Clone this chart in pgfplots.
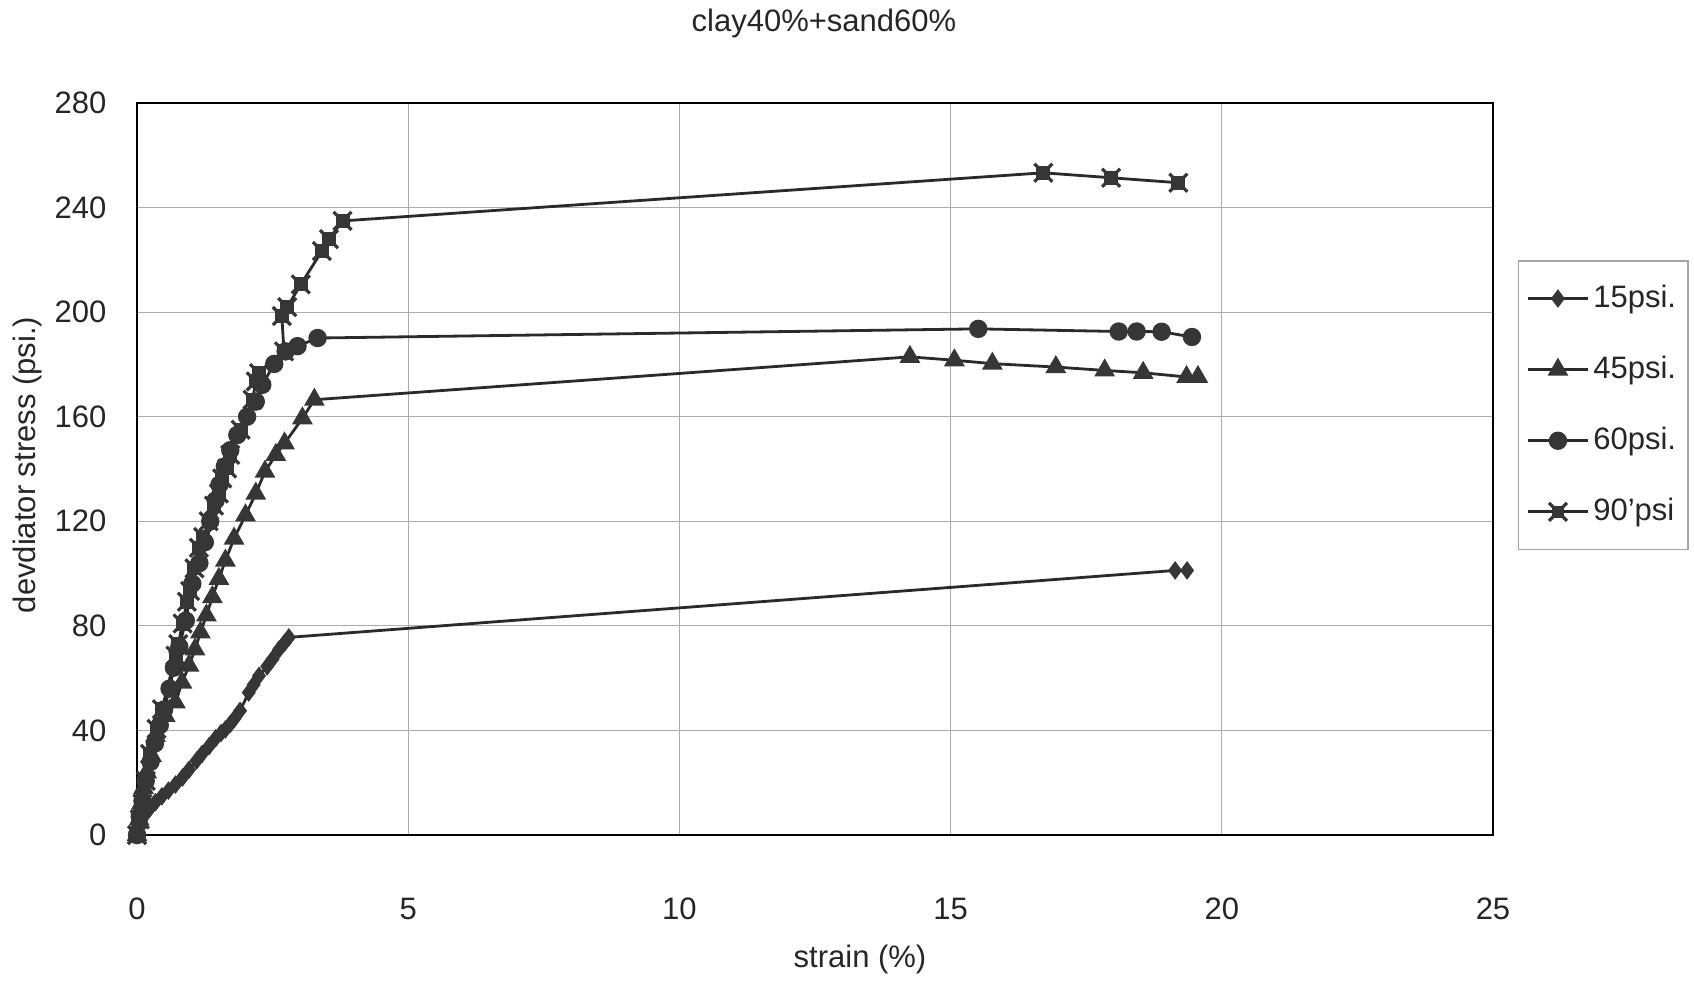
\documentclass[border=0pt]{standalone}
\usepackage{pgfplots}
\pgfplotsset{compat=1.18}
\usepackage{fontspec}
\setmainfont{Liberation Sans}
\definecolor{ln}{HTML}{2A2A2A}
\definecolor{mk}{HTML}{363636}
\pgfdeclareplotmark{xsq}{%
  \pgfpathrectangle{\pgfqpoint{-0.6\pgfplotmarksize}{-0.6\pgfplotmarksize}}{\pgfqpoint{1.2\pgfplotmarksize}{1.2\pgfplotmarksize}}%
  \pgfusepathqfillstroke
  \pgfsetlinewidth{1.6pt}%
  \pgfpathmoveto{\pgfqpoint{-\pgfplotmarksize}{-\pgfplotmarksize}}%
  \pgfpathlineto{\pgfqpoint{\pgfplotmarksize}{\pgfplotmarksize}}%
  \pgfpathmoveto{\pgfqpoint{-\pgfplotmarksize}{\pgfplotmarksize}}%
  \pgfpathlineto{\pgfqpoint{\pgfplotmarksize}{-\pgfplotmarksize}}%
  \pgfusepathqstroke
}
\begin{document}
\fontsize{15.5}{18}\selectfont
\begin{tikzpicture}
\useasboundingbox (0,0) rectangle (847pt,491pt);
\begin{axis}[
  at={(68.5pt,73.5pt)}, anchor=south west,
  scale only axis, width=678pt, height=366pt,
  xmin=0, xmax=25, ymin=0, ymax=280,
  clip=false,
  xtick={0,5,10,15,20,25}, ytick={0,40,80,120,160,200,240,280},
  major tick length=0pt,
  grid=major,
  major grid style={gray!65, line width=0.6pt},
  axis line style={black, line width=1.3pt},
  /pgf/number format/assume math mode=true,
  tick label style={font=\fontsize{15.5}{18}\selectfont, text=black!85},
  xticklabel style={anchor=center, yshift=-37pt},
  yticklabel style={anchor=east, xshift=-10pt},
  xlabel={strain (\%)},
  xlabel style={at={(axis description cs:0.5332,-0.1694)}, anchor=center, font=\fontsize{15.5}{18}\selectfont, text=black!85},
  ylabel={devdiator stress (psi.)},
  ylabel style={at={(axis description cs:-0.0811,0.5055)}, anchor=center, font=\fontsize{15.5}{18}\selectfont, text=black!85},
  legend style={at={(1.0184,0.785)}, anchor=north west, draw=gray!70, line width=0.6pt,
    font=\fontsize{15.5}{18}\selectfont, text=black!85, row sep=18pt,
    inner xsep=4pt, inner ysep=10pt},
  legend cell align=left,
  legend image code/.code={\draw[mark repeat=2,mark phase=2] plot coordinates {(0pt,0pt) (15pt,0pt) (30pt,0pt)};},
  every axis plot/.append style={line width=1.4pt, color=ln, mark options={fill=mk, draw=mk, line width=0.8pt, solid}},
]
% 15 psi
\addplot[mark=diamond*, mark size=4pt] coordinates {
(0,0) (0.08,5.9) (0.22,9.7) (0.34,12.5) (0.46,14.8) (0.58,17) (0.71,19.3) (0.84,22) (0.96,25) (1.1,28.5) (1.2,31) (1.33,34) (1.45,37) (1.55,39) (1.63,40.4) (1.72,42.5) (1.79,44.3) (1.9,47.5) (2.06,54.5) (2.15,57.5) (2.25,60.9) (2.4,64.5) (2.5,67.3) (2.62,71) (2.72,73.5) (2.8,75.6) (19.14,101.2) (19.36,101.2)
};
\addlegendentry{15psi.}
% 45 psi
\addplot[mark=triangle*, mark size=5.2pt] coordinates {
(0,0) (0.04,6) (0.08,12) (0.12,18) (0.18,24) (0.27,30.2) (0.34,37.9) (0.52,45.6) (0.71,50.7) (0.83,58.3) (0.96,64.8) (1.07,71) (1.17,77.5) (1.28,84) (1.39,91) (1.51,98) (1.63,105) (1.79,113.4) (2.0,122.3) (2.19,130.6) (2.36,139) (2.56,145.4) (2.72,149.8) (3.05,159.4) (3.27,166.5) (14.25,182.9) (15.07,181.6) (15.77,180.3) (16.94,179) (17.84,177.7) (18.55,176.8) (19.35,175.2) (19.56,175.2)
};
\addlegendentry{45psi.}
% 60 psi
\addplot[mark=*, mark size=4.2pt] coordinates {
(0,0) (0.05,7) (0.1,13) (0.16,20.7) (0.25,28) (0.33,35) (0.42,42) (0.5,48) (0.6,56) (0.68,64) (0.78,72) (0.9,82) (1.02,96.1) (1.15,104) (1.25,112) (1.35,120) (1.45,128) (1.52,134) (1.62,141) (1.72,147.2) (1.85,153) (2.03,160) (2.19,165.8) (2.31,172.2) (2.53,180.2) (2.74,185) (2.96,187) (3.33,190.1) (15.51,193.6) (18.1,192.6) (18.43,192.6) (18.89,192.5) (19.45,190.5)
};
\addlegendentry{60psi.}
% 90 psi
\addplot[mark=xsq, mark size=4.5pt] coordinates {
(0,0) (0.05,6) (0.1,12) (0.16,20.7) (0.24,31) (0.36,40.6) (0.46,48.1) (0.71,68.6) (0.76,73) (0.84,80.9) (0.92,89.2) (0.98,93.3) (1.06,102) (1.14,109.9) (1.22,114) (1.32,120) (1.42,126) (1.51,130.6) (1.57,136.4) (1.66,140.2) (1.72,145.4) (1.91,155) (2.13,166.5) (2.19,173.5) (2.25,176.7) (2.71,185) (2.67,198.5) (2.77,201.9) (3.02,210.6) (3.41,223.4) (3.54,227.9) (3.79,234.9) (16.71,253.3) (17.96,251.4) (19.2,249.5)
};
\addlegendentry{90'psi}
\node[anchor=center, font=\fontsize{15.5}{18}\selectfont, text=black!85] at (rel axis cs:0.5066,1.108) {clay40\%+sand60\%};
\end{axis}
\end{tikzpicture}
\end{document}
